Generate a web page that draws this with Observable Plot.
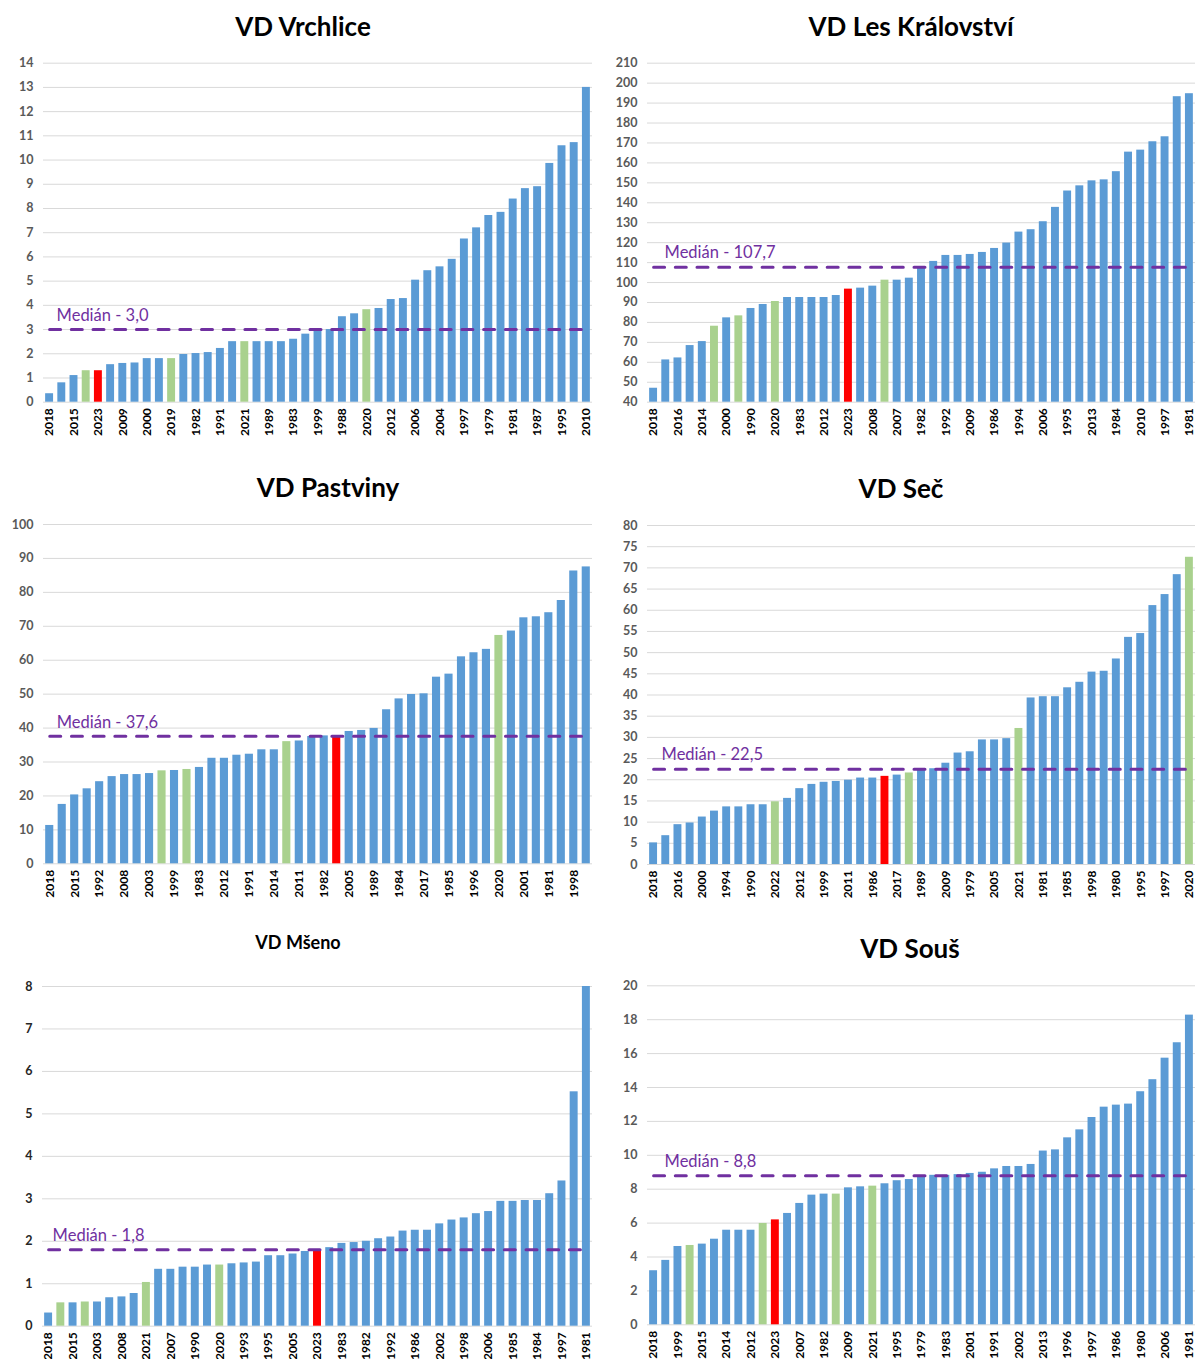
<!DOCTYPE html>
<html>
<head>
<meta charset="utf-8">
<script src="https://cdn.jsdelivr.net/npm/d3@7"></script>
<script src="https://cdn.jsdelivr.net/npm/@observablehq/plot@0.6"></script>
<style>
  body { margin: 0; background: #fff; font-family: Lato, "Open Sans", sans-serif; }
  #page { position: relative; width: 1195px; height: 1359px; overflow: hidden; background: #fff; }
  .panel { position: absolute; }
  .title { position: absolute; transform: translate(-50%, -50%); font-weight: bold; white-space: nowrap; color: #000; line-height: 1.2; }
</style>
</head>
<body>
<div id="page"></div>
<script>
// Sorted yearly values per reservoir; tick labels name every other bar.
// "recent" = indexes of the 2019–2022 bars, "current" = index of the 2023 bar.

// VD Vrchlice
const vrchliceValues = [0.35, 0.8, 1.1, 1.3, 1.3, 1.55, 1.6, 1.62, 1.8, 1.8, 1.8, 1.97, 2.01, 2.05, 2.22, 2.5, 2.5, 2.5, 2.5, 2.5, 2.6, 2.81, 3.0, 3.0, 3.53, 3.65, 3.82, 3.87, 4.24, 4.28, 5.04, 5.43, 5.59, 5.9, 6.74, 7.2, 7.71, 7.84, 8.39, 8.82, 8.9, 9.86, 10.59, 10.72, 13.0];
const vrchliceLabels = [2018, 2015, 2023, 2009, 2000, 2019, 1982, 1991, 2021, 1989, 1983, 1999, 1988, 2020, 2012, 2006, 2004, 1997, 1979, 1981, 1987, 1995, 2010];
const vrchliceRecent = [3, 10, 16, 26];
const vrchliceCurrent = 4;
const vrchliceMedian = 3.0;
const vrchliceTicks = [0, 1, 2, 3, 4, 5, 6, 7, 8, 9, 10, 11, 12, 13, 14];

// VD Les Království
const lesValues = [47, 61.2, 62.2, 68.4, 70.4, 78.1, 82.3, 83.3, 87.0, 89.0, 90.5, 92.5, 92.5, 92.5, 92.5, 93.5, 96.7, 97.2, 98.2, 101.2, 101.2, 102.2, 107.7, 110.6, 113.6, 113.6, 114.1, 115.1, 117.1, 119.8, 125.3, 126.5, 130.5, 137.7, 145.9, 148.5, 151.0, 151.5, 155.6, 165.4, 166.4, 170.6, 173.1, 193.2, 194.7];
const lesLabels = [2018, 2016, 2014, 2000, 1990, 2020, 1983, 2012, 2023, 2008, 2007, 1982, 1992, 2009, 1986, 1994, 2006, 1995, 2013, 1984, 2010, 1997, 1981];
const lesRecent = [5, 7, 10, 19];
const lesCurrent = 16;
const lesMedian = 107.7;
const lesTicks = [40, 50, 60, 70, 80, 90, 100, 110, 120, 130, 140, 150, 160, 170, 180, 190, 200, 210];

// VD Pastviny
const pastvinyValues = [11.3, 17.5, 20.3, 22.1, 24.2, 25.7, 26.3, 26.3, 26.6, 27.4, 27.5, 27.8, 28.4, 31.1, 31.1, 32.0, 32.3, 33.6, 33.6, 36.0, 36.2, 37.5, 37.7, 37.8, 39.0, 39.3, 39.9, 45.4, 48.6, 49.9, 50.1, 55.0, 55.9, 61.0, 62.2, 63.2, 67.3, 68.6, 72.5, 72.8, 74.0, 77.6, 86.3, 87.5];
const pastvinyLabels = [2018, 2015, 1992, 2008, 2003, 1999, 1983, 2012, 1991, 2014, 2011, 1982, 2005, 1989, 1984, 2017, 1985, 1996, 2020, 2001, 1981, 1998];
const pastvinyRecent = [9, 11, 19, 36];
const pastvinyCurrent = 23;
const pastvinyMedian = 37.6;
const pastvinyTicks = [0, 10, 20, 30, 40, 50, 60, 70, 80, 90, 100];

// VD Seč
const secValues = [5.1, 6.8, 9.4, 9.8, 11.2, 12.6, 13.6, 13.6, 14.1, 14.1, 14.8, 15.6, 17.9, 18.9, 19.4, 19.6, 19.9, 20.4, 20.4, 20.8, 21.1, 21.6, 22.5, 22.6, 23.9, 26.3, 26.6, 29.4, 29.4, 29.7, 32.1, 39.3, 39.6, 39.6, 41.7, 43.0, 45.4, 45.6, 48.5, 53.6, 54.5, 61.1, 63.7, 68.4, 72.5];
const secLabels = [2018, 2016, 2000, 1994, 1990, 2022, 2012, 1999, 2011, 1986, 2017, 1989, 2009, 1979, 2005, 2021, 1981, 1985, 1998, 1980, 1995, 1997, 2020];
const secRecent = [10, 21, 30, 44];
const secCurrent = 19;
const secMedian = 22.5;
const secTicks = [0, 5, 10, 15, 20, 25, 30, 35, 40, 45, 50, 55, 60, 65, 70, 75, 80];

// VD Mšeno
const msenoValues = [0.31, 0.55, 0.55, 0.57, 0.57, 0.67, 0.69, 0.77, 1.03, 1.34, 1.34, 1.39, 1.39, 1.44, 1.44, 1.47, 1.49, 1.51, 1.66, 1.66, 1.70, 1.76, 1.78, 1.85, 1.95, 1.97, 2.0, 2.06, 2.1, 2.24, 2.26, 2.26, 2.41, 2.5, 2.55, 2.65, 2.7, 2.94, 2.94, 2.96, 2.96, 3.12, 3.42, 5.52, 8.0];
const msenoLabels = [2018, 2015, 2003, 2008, 2021, 2007, 1990, 2020, 1993, 1995, 2005, 2023, 1983, 1982, 1992, 1986, 2002, 1998, 2006, 1985, 1984, 1997, 1981];
const msenoRecent = [1, 3, 8, 14];
const msenoCurrent = 22;
const msenoMedian = 1.8;
const msenoTicks = [0, 1, 2, 3, 4, 5, 6, 7, 8];

// VD Souš
const sousValues = [3.19, 3.8, 4.62, 4.68, 4.76, 5.05, 5.58, 5.58, 5.58, 5.98, 6.19, 6.57, 7.16, 7.65, 7.71, 7.71, 8.08, 8.14, 8.18, 8.32, 8.5, 8.57, 8.8, 8.82, 8.82, 8.86, 8.93, 9.0, 9.2, 9.34, 9.34, 9.46, 10.25, 10.32, 11.03, 11.5, 12.23, 12.84, 12.96, 13.02, 13.75, 14.46, 15.73, 16.64, 18.27];
const sousLabels = [2018, 1999, 2015, 2014, 2012, 2023, 2007, 1982, 2009, 2021, 1995, 1979, 1983, 2001, 1991, 2002, 2013, 1996, 1997, 1986, 1980, 2006, 1981];
const sousRecent = [3, 9, 15, 18];
const sousCurrent = 10;
const sousMedian = 8.8;
const sousTicks = [0, 2, 4, 6, 8, 10, 12, 14, 16, 18, 20];

const periodColors = {domain: ["ostatní roky", "2019–2022", "2023"], range: ["#5B9BD5", "#A9D18E", "#FF0000"]};

// Panel layout on the page
const panels = [
  {title: "VD Vrchlice", values: vrchliceValues, labels: vrchliceLabels, recent: vrchliceRecent, current: vrchliceCurrent, median: vrchliceMedian, ticks: vrchliceTicks,
   left: 0, top: 50, width: 597, height: 392, mt: 12.7, mb: 40.3, ml: 43, mr: 5, tx: 303, ty: 27, tsize: 26, labelDx: 7, yColor: "#595959"},
  {title: "VD Les Království", values: lesValues, labels: lesLabels, recent: lesRecent, current: lesCurrent, median: lesMedian, ticks: lesTicks,
   left: 600, top: 50, width: 595, height: 392, mt: 12.7, mb: 40.3, ml: 47, mr: 0, tx: 911, ty: 27, tsize: 26, labelDx: 11, yColor: "#595959"},
  {title: "VD Pastviny", values: pastvinyValues, labels: pastvinyLabels, recent: pastvinyRecent, current: pastvinyCurrent, median: pastvinyMedian, ticks: pastvinyTicks,
   left: 0, top: 510, width: 597, height: 392, mt: 14, mb: 38.7, ml: 43, mr: 5, tx: 328, ty: 488, tsize: 26, labelDx: 7, yColor: "#595959"},
  {title: "VD Seč", values: secValues, labels: secLabels, recent: secRecent, current: secCurrent, median: secMedian, ticks: secTicks,
   left: 600, top: 510, width: 595, height: 392, mt: 15, mb: 38, ml: 47, mr: 0, tx: 901, ty: 489, tsize: 26, labelDx: 8, yColor: "#595959"},
  {title: "VD Mšeno", values: msenoValues, labels: msenoLabels, recent: msenoRecent, current: msenoCurrent, median: msenoMedian, ticks: msenoTicks,
   left: 0, top: 970, width: 597, height: 389, mt: 16, mb: 33.3, ml: 42, mr: 5, tx: 298, ty: 943, tsize: 18, labelDx: 4, yColor: "#262626"},
  {title: "VD Souš", values: sousValues, labels: sousLabels, recent: sousRecent, current: sousCurrent, median: sousMedian, ticks: sousTicks,
   left: 600, top: 970, width: 595, height: 389, mt: 15.3, mb: 34.7, ml: 47, mr: 0, tx: 910, ty: 949, tsize: 26, labelDx: 11, yColor: "#595959"}
];

const page = document.getElementById("page");

for (const p of panels) {
  const idx = d3.range(p.values.length);
  const period = i => i === p.current ? "2023" : p.recent.includes(i) ? "2019–2022" : "ostatní roky";
  const base = p.ticks[0];
  const medianText = "Medián - " + p.median.toFixed(1).replace(".", ",");

  const chart = Plot.plot({
    width: p.width,
    height: p.height,
    marginTop: p.mt,
    marginBottom: p.mb,
    marginLeft: p.ml,
    marginRight: p.mr,
    style: {fontFamily: "Lato, 'Open Sans', sans-serif", background: "transparent", overflow: "visible"},
    x: {type: "band", domain: idx, paddingInner: 0.35, paddingOuter: 0.175, round: false, axis: null},
    y: {domain: [p.ticks[0], p.ticks[p.ticks.length - 1]], axis: null},
    color: periodColors,
    marks: [
      Plot.gridY(p.ticks, {stroke: "#d9d9d9", strokeOpacity: 1, strokeWidth: 1}),
      Plot.barY(idx, {x: i => i, y1: () => base, y2: i => p.values[i], fill: period}),
      Plot.lineY([0, idx.length - 1], {x: i => i, y: () => p.median, stroke: "#7030A0", strokeWidth: 3, strokeDasharray: "11,10.7"}),
      Plot.text([p.median], {x: () => 0, y: d => d, text: () => medianText, textAnchor: "start", dx: p.labelDx, dy: -14, fill: "#7030A0", fontSize: 16.5}),
      Plot.axisY(p.ticks, {tickSize: 0, tickPadding: 10, fill: p.yColor, fontSize: 12.5, fontWeight: "bold", label: null}),
      Plot.axisX(idx.filter(i => i % 2 === 0), {tickRotate: -90, tickSize: 0, tickPadding: 6, tickFormat: i => String(p.labels[i / 2]), fontSize: 12, fontWeight: "bold", fill: "#000", label: null})
    ]
  });

  const holder = document.createElement("div");
  holder.className = "panel";
  holder.style.left = p.left + "px";
  holder.style.top = p.top + "px";
  holder.appendChild(chart);
  page.appendChild(holder);

  const title = document.createElement("div");
  title.className = "title";
  title.textContent = p.title;
  title.style.left = p.tx + "px";
  title.style.top = p.ty + "px";
  title.style.fontSize = p.tsize + "px";
  page.appendChild(title);
}
</script>
</body>
</html>
